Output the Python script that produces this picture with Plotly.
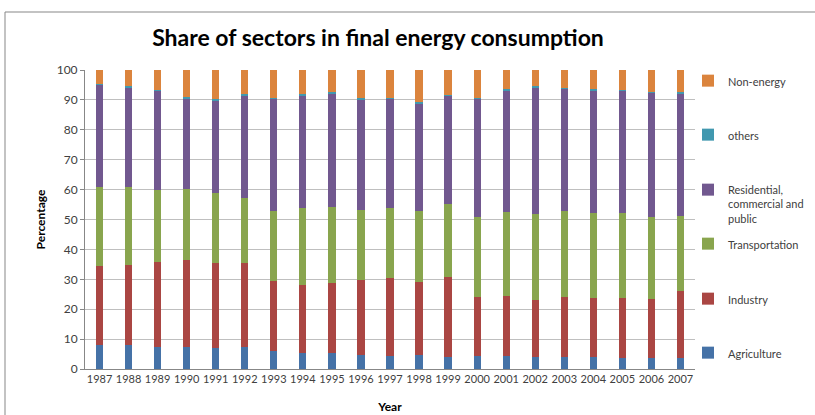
import plotly.graph_objects as go

years = [str(y) for y in range(1987, 2008)]
agriculture = [7.9, 7.9, 7.5, 7.3, 7.1, 7.3, 5.9, 5.5, 5.2, 4.8, 4.5, 4.8, 4.1, 4.5, 4.5, 3.9, 4.0, 3.9, 3.6, 3.6, 3.6]
industry = [26.6, 26.8, 28.4, 29.0, 28.5, 28.1, 23.4, 22.5, 23.6, 24.9, 26.1, 24.3, 26.7, 19.6, 19.8, 19.3, 20.2, 19.9, 20.2, 19.9, 22.5]
transportation = [26.3, 26.1, 24.0, 23.8, 23.2, 21.9, 23.6, 25.8, 25.3, 23.6, 23.2, 23.6, 24.3, 26.9, 28.3, 28.5, 28.8, 28.3, 28.3, 27.3, 25.1]
residential = [34.2, 33.4, 33.1, 30.4, 31.0, 34.3, 37.4, 37.8, 38.0, 36.9, 36.5, 36.2, 36.3, 39.5, 40.5, 42.4, 40.7, 41.1, 41.0, 41.7, 41.1]
others = [0.3, 0.4, 0.3, 0.4, 0.4, 0.3, 0.3, 0.4, 0.4, 0.3, 0.3, 0.3, 0.4, 0.3, 0.4, 0.4, 0.3, 0.3, 0.3, 0.3, 0.3]
non_energy = [4.7, 5.4, 6.7, 9.1, 9.8, 8.1, 9.4, 8.0, 7.5, 9.5, 9.4, 10.8, 8.2, 9.2, 6.5, 5.5, 6.0, 6.5, 6.6, 7.2, 7.4]

series = [
    ("Agriculture", agriculture, "#4572A7"),
    ("Industry", industry, "#AA4643"),
    ("Transportation", transportation, "#89A54E"),
    ("Residential,<br>commercial and<br>public", residential, "#71588F"),
    ("others", others, "#4198AF"),
    ("Non-energy", non_energy, "#DB843D"),
]
# legend marker centre pixel rows (top of image = 0)
legend_rows = [353, 299, 244, 190, 135, 81]

L, R, T, B = 85, 120, 70, 46
W, H = 815, 415
ph = H - T - B
pw = W - L - R

fig = go.Figure()
for i, (name, vals, col) in enumerate(series):
    lg = "legend" if i == 0 else f"legend{i+1}"
    fig.add_trace(go.Bar(x=years, y=vals, name=name, marker=dict(color=col, line=dict(width=0)),
                         legend=lg, showlegend=True))
    row = legend_rows[i]
    fig.update_layout({lg: dict(
        x=(688 - L) / pw, xanchor="left",
        y=(H - B - (row - 14)) / ph, yanchor="top",
        valign="top", bgcolor="rgba(0,0,0,0)",
        font=dict(family="Lato, sans-serif", size=11, color="#404040"),
        itemwidth=30,
    )})

fig.update_layout(
    barmode="stack",
    bargap=0.75,
    showlegend=True,
    width=W, height=H,
    margin=dict(l=L, r=R, t=T, b=B, autoexpand=False),
    paper_bgcolor="white", plot_bgcolor="white",
    font=dict(family="Lato, sans-serif", size=11, color="#404040"),
    title=dict(text="<b>Share of sectors in final energy consumption</b>",
               x=(378) / W, xanchor="center", y=1 - 38 / H, yanchor="middle",
               font=dict(family="Lato, sans-serif", size=23, color="black")),
    xaxis=dict(title=dict(text="<b>Year</b>", font=dict(size=12, color="black"), standoff=18),
               automargin=False,
               showgrid=False, showline=True, linecolor="#878787", linewidth=1,
               ticks="", tickfont=dict(size=11, color="#404040"), tickangle=0),
    yaxis=dict(title=dict(text="<b>Percentage</b>", font=dict(size=12, color="black"), standoff=8),
               automargin=False,
               range=[0, 100], dtick=10, showgrid=True, gridcolor="#BFBFBF", gridwidth=1,
               showline=True, linecolor="#878787", linewidth=1, ticks="outside", ticklen=4,
               tickcolor="#878787", tickfont=dict(size=12, color="#404040"), zeroline=False),
    shapes=[dict(type="rect", xref="paper", yref="paper",
                 x0=(5 - L) / pw, x1=1.4, y0=-0.4, y1=(H - B - 12) / ph,
                 line=dict(color="#878787", width=1), fillcolor="rgba(0,0,0,0)", layer="below")],
)

fig.write_html("out.html")
